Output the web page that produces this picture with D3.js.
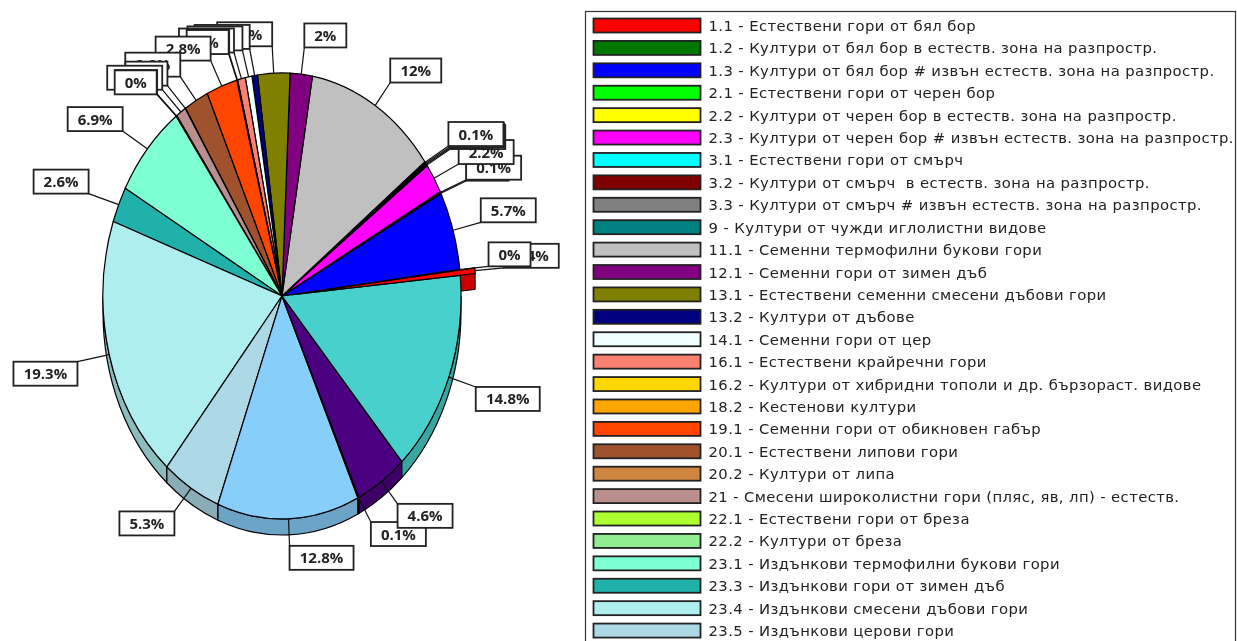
<!DOCTYPE html>
<html>
<head>
<meta charset="utf-8">
<title>Pie</title>
<script src="https://cdn.jsdelivr.net/npm/d3@7"></script>
<style>
  html, body { margin: 0; padding: 0; background: #fff; overflow: hidden; }
  svg { display: block; }
</style>
</head>
<body>
<div id="chart"></div>
<script>
// legend rows (the rest of the legend falls below the picture)
var categories = [
  "1.1 - Естествени гори от бял бор",
  "1.2 - Култури от бял бор в естеств. зона на разпростр.",
  "1.3 - Култури от бял бор # извън естеств. зона на разпростр.",
  "2.1 - Естествени гори от черен бор",
  "2.2 - Култури от черен бор в естеств. зона на разпростр.",
  "2.3 - Култури от черен бор # извън естеств. зона на разпростр.",
  "3.1 - Естествени гори от смърч",
  "3.2 - Култури от смърч  в естеств. зона на разпростр.",
  "3.3 - Култури от смърч # извън естеств. зона на разпростр.",
  "9 - Култури от чужди иглолистни видове",
  "11.1 - Семенни термофилни букови гори",
  "12.1 - Семенни гори от зимен дъб",
  "13.1 - Естествени семенни смесени дъбови гори",
  "13.2 - Култури от дъбове",
  "14.1 - Семенни гори от цер",
  "16.1 - Естествени крайречни гори",
  "16.2 - Култури от хибридни тополи и др. бързораст. видове",
  "18.2 - Кестенови култури",
  "19.1 - Семенни гори от обикновен габър",
  "20.1 - Естествени липови гори",
  "20.2 - Култури от липа",
  "21 - Смесени широколистни гори (пляс, яв, лп) - естеств.",
  "22.1 - Естествени гори от бреза",
  "22.2 - Култури от бреза",
  "23.1 - Издънкови термофилни букови гори",
  "23.3 - Издънкови гори от зимен дъб",
  "23.4 - Издънкови смесени дъбови гори",
  "23.5 - Издънкови церови гори"
];

// one value per slice, the last four have no visible legend row
var values = [0.4, 0.04, 5.7, 0.04, 0.1, 2.2, 0.1, 0.04, 0.1, 0.1, 12, 2,
  2.9, 0.5, 0.6, 0.7, 0.04, 0.04, 2.8, 2.2, 0.04, 0.9, 0.04, 0.04,
  6.9, 2.6, 19.3, 5.3, 12.8, 0.1, 4.6, 14.8];

var colors = ["#ff0000", "#007800", "#0000ff", "#00ff00", "#ffff00", "#ff00ff", "#00ffff", "#800000",
  "#808080", "#008080", "#c0c0c0", "#800080", "#808000", "#000080", "#f0ffff", "#fa8072",
  "#ffd700", "#ffa500", "#ff4500", "#a0522d", "#cd853f", "#bc8f8f", "#adff2f", "#90ee90",
  "#7fffd4", "#20b2aa", "#afeeee", "#add8e6", "#87cefa", "#483d8b", "#4b0082", "#48d1cc"];

var width = 1237, height = 641;
var cx = 282, cy = 296, rx = 179, ry = 223, depth = 16;
var arrow = 27;       // leader length
var explode = 15;     // first slice is pulled out
var firstAngle = 5.3 * Math.PI / 180;

var svg = d3.select("#chart").append("svg")
  .attr("width", width)
  .attr("height", height)
  .style("filter", "blur(0.35px)");

// counterclockwise from just above east
var start = Math.PI / 2 - firstAngle;
var pie = d3.pie().sort(null).startAngle(start).endAngle(start - 2 * Math.PI);
var slices = pie(values);
var arc = d3.arc().innerRadius(0).outerRadius(1);

// point on an ellipse for a d3 angle (0 = north, clockwise)
function px(a, extra) { return cx + (rx + (extra || 0)) * Math.sin(a); }
function py(a, extra) { return cy - (ry + (extra || 0)) * Math.cos(a); }
function mid(d) { return (d.startAngle + d.endAngle) / 2; }
function shift(d) {
  if (d.index !== 0) return [0, 0];
  return [explode * Math.sin(mid(d)), -explode * (ry / rx) * Math.cos(mid(d))];
}
function sideColor(c) { return d3.rgb(c).darker(0.64).formatHex(); }

// pulled out slice first, the others cover most of its side
var red = slices[0];
var off = shift(red);
var redPts = [[cx, cy], [px(red.startAngle), py(red.startAngle)], [px(red.endAngle), py(red.endAngle)]]
  .map(function(p) { return [p[0] + off[0], p[1] + off[1]]; });
var hull = d3.polygonHull(redPts.concat(redPts.map(function(p) { return [p[0], p[1] + depth]; })));
svg.append("path")
  .attr("d", "M" + hull.join("L") + "Z")
  .attr("fill", sideColor(colors[0]))
  .attr("stroke", "#000");

// side wall, only the lower half of the ellipse shows
function wallPath(d) {
  var a0 = Math.min(d.startAngle, Math.PI * -0.5);
  var a1 = Math.max(d.endAngle, Math.PI * -1.5);
  if (a0 <= a1) return null;
  return "M" + px(a0) + "," + py(a0)
    + "A" + rx + "," + ry + " 0 0 0 " + px(a1) + "," + py(a1)
    + "L" + px(a1) + "," + (py(a1) + depth)
    + "A" + rx + "," + ry + " 0 0 1 " + px(a0) + "," + (py(a0) + depth) + "Z";
}

svg.append("g").selectAll("path")
  .data(slices.filter(function(d) { return d.index !== 0 && d.value > 0.05 && wallPath(d); }))
  .enter().append("path")
  .attr("d", wallPath)
  .attr("fill", function(d) { return sideColor(colors[d.index]); })
  .attr("stroke", "#000")
  .attr("stroke-width", 1.2);

// top faces, red last
svg.append("g").selectAll("path")
  .data(slices.slice(1).concat([slices[0]]))
  .enter().append("path")
  .attr("d", arc)
  .attr("transform", function(d) {
    var o = shift(d);
    return "translate(" + (cx + o[0]) + "," + (cy + o[1]) + ") scale(" + rx + "," + ry + ")";
  })
  .attr("vector-effect", "non-scaling-stroke")
  .attr("fill", function(d) { return colors[d.index]; })
  .attr("stroke", "#000")
  .attr("stroke-width", 1.2);

// marks: leader + box, later ones sit on top of earlier ones
var labelFont = "bold 15px 'Open Sans', sans-serif";
var marks = svg.append("g").selectAll("g")
  .data(slices)
  .enter().append("g");

marks.each(function(d) {
  var g = d3.select(this);
  var a = mid(d), o = shift(d);
  var x0 = px(a) + o[0], y0 = py(a) + o[1];
  // leaders reach a bit further on the left side
  var x1 = cx + (rx + (Math.sin(a) >= 0 ? arrow + 2 : arrow + 6)) * Math.sin(a) + o[0];
  var y1 = py(a, arrow) + o[1];

  g.append("line")
    .attr("x1", x0).attr("y1", y0)
    .attr("x2", x1).attr("y2", y1)
    .attr("stroke", "#111")
    .attr("stroke-width", 1.2);

  var box = g.append("rect");
  var txt = g.append("text")
    .style("font", labelFont)
    .attr("fill", "#222")
    .attr("text-anchor", "middle")
    .text(+d.value.toFixed(1) + "%");

  var w = Math.round(txt.node().getComputedTextLength()) + 20, h = 24;
  var left = Math.sin(a) >= 0 ? x1 : x1 - w;
  var top = Math.cos(a) >= 0 ? y1 - h : y1;

  box.attr("x", left).attr("y", top)
    .attr("width", w).attr("height", h)
    .attr("fill", "#fff")
    .attr("stroke", "#222")
    .attr("stroke-width", 1.8);
  txt.attr("x", left + w / 2).attr("y", top + 17.5);
});

// legend
var legendX = 585.5, legendY = 11.5, rowH = 22.41;
var legend = svg.append("g");
legend.append("rect")
  .attr("x", legendX).attr("y", legendY)
  .attr("width", 650).attr("height", 660)
  .attr("fill", "#fff")
  .attr("stroke", "#333")
  .attr("stroke-width", 1.2);

var rows = legend.selectAll("g.row")
  .data(categories)
  .enter().append("g")
  .attr("class", "row")
  .attr("transform", function(d, i) { return "translate(0," + (25.5 + i * rowH) + ")"; });

rows.append("rect")
  .attr("x", 593.5).attr("y", -7)
  .attr("width", 107).attr("height", 14)
  .attr("fill", function(d, i) { return colors[i]; })
  .attr("stroke", "#222")
  .attr("stroke-width", 1.8);

rows.append("text")
  .attr("x", 708.5).attr("y", 5.5)
  .style("font", "14.8px 'DejaVu Sans', sans-serif")
  .style("letter-spacing", "0.4px")
  .style("white-space", "pre")
  .attr("fill", "#222")
  .text(function(d) { return d; });
</script>
</body>
</html>
